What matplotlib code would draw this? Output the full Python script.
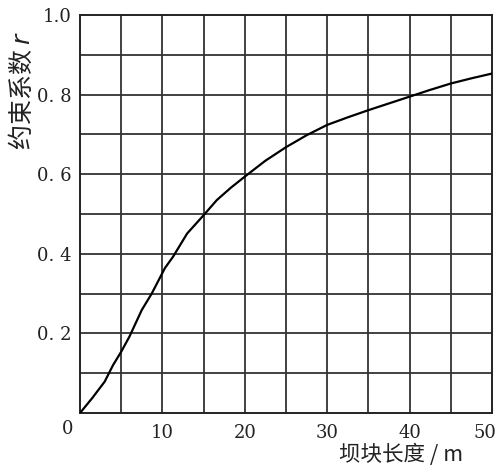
import matplotlib
matplotlib.use('Agg')
import matplotlib.pyplot as plt
import matplotlib.transforms as mtransforms
import numpy as np

# 坝块长度 (m) 与 约束系数 r
length_m = [0, 1.5, 3, 4, 5, 6, 7.5, 8.7, 10.3, 11.3, 13, 15, 16.6, 18.3, 20,
            22.5, 25, 27.5, 30, 32.5, 35, 37.5, 40, 42.5, 45, 47.5, 50]
coef_r = [0, 0.038, 0.079, 0.12, 0.154, 0.192, 0.259, 0.30, 0.364, 0.393, 0.451, 0.497, 0.535, 0.566, 0.594,
          0.634, 0.668, 0.698, 0.724, 0.743, 0.761, 0.778, 0.795, 0.812, 0.828, 0.841, 0.853]

x_ticks = [10, 20, 30, 40, 50]
x_ticklabels = ['10', '20', '30', '40', '50']
y_ticks = [0.2, 0.4, 0.6, 0.8, 1.0]
y_ticklabels = ['0. 2', '0. 4', '0. 6', '0. 8', '1.0']

plt.rcParams['font.family'] = ['DejaVu Serif', 'Noto Sans CJK SC']

fig = plt.figure(figsize=(5, 4.66), dpi=100)
ax = fig.add_axes([0.16, 0.1137, 0.824, 0.854])

# 网格：x每5，y每0.1
for gx in np.arange(5, 50, 5):
    ax.axvline(gx, color='#333333', lw=1.3, zorder=1)
for gy in np.arange(0.1, 1.0, 0.1):
    ax.axhline(gy, color='#333333', lw=1.3, zorder=1)

ax.plot(length_m, coef_r, color='black', lw=1.6, zorder=3)

ax.set_xlim(0, 50)
ax.set_ylim(0, 1.0)
ax.set_xticks(x_ticks)
ax.set_xticklabels(x_ticklabels)
ax.set_yticks(y_ticks)
ax.set_yticklabels(y_ticklabels)
ax.tick_params(length=0, labelsize=13, colors='#222222')
ax.tick_params(axis='x', pad=8)
ax.tick_params(axis='y', pad=6)
for s in ax.spines.values():
    s.set_color('#222222')
    s.set_linewidth(1.4)

# 最右边的 "50" 往左挪一点，不出界
lab50 = ax.get_xticklabels()[-1]
lab50.set_transform(lab50.get_transform() + mtransforms.ScaledTranslation(-7 / 100, 0, fig.dpi_scale_trans))

# 原点 "0" 放在角上
fig.text(0.136, 0.080, '0', fontsize=13, color='#222222', ha='center', va='center')

fig.text(0.044, 0.807, '约束系数 $r$', rotation=90, fontsize=18, color='#222222',
         ha='center', va='center', family=['Noto Sans CJK SC', 'DejaVu Sans'])
fig.text(0.802, 0.024, '坝块长度 / m', fontsize=15.5, color='#222222',
         ha='center', va='center', family=['Noto Sans CJK SC', 'DejaVu Serif'])

fig.savefig('out.png', dpi=100)
